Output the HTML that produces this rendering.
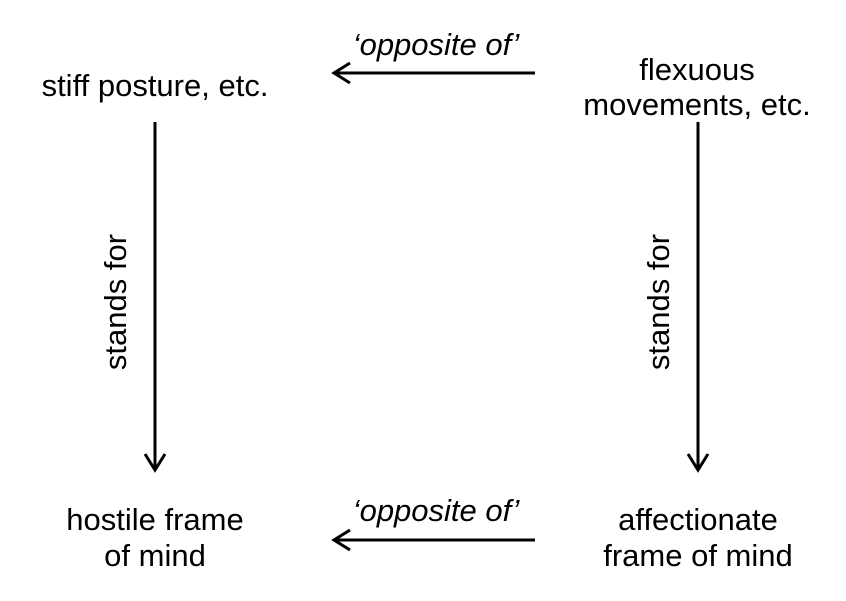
<!DOCTYPE html>
<html><head><style>
html,body{margin:0;padding:0;background:#fff;}
svg text{font-family:"Liberation Sans",sans-serif;font-size:31px;fill:#000;}
</style></head><body>
<svg width="846" height="596" viewBox="0 0 846 596" xmlns="http://www.w3.org/2000/svg">
<g stroke="#000" stroke-width="3" fill="none">
<line x1="535" y1="73" x2="336" y2="73"/>
<polyline points="350,63 334,73 350,83"/>
<line x1="535" y1="540" x2="336" y2="540"/>
<polyline points="350,530 334,540 350,550"/>
<line x1="155" y1="122" x2="155" y2="468"/>
<polyline points="145,454 155,470 165,454"/>
<line x1="698" y1="122" x2="698" y2="468"/>
<polyline points="688,454 698,470 708,454"/>
</g>
<text x="155" y="96" text-anchor="middle">stiff posture, etc.</text>
<text x="697" y="80" text-anchor="middle">flexuous</text>
<text x="697" y="115" text-anchor="middle">movements, etc.</text>
<text x="436" y="55" text-anchor="middle" font-style="italic">‘opposite of’</text>
<text x="436" y="521" text-anchor="middle" font-style="italic">‘opposite of’</text>
<text x="155" y="530" text-anchor="middle">hostile frame</text>
<text x="155" y="566" text-anchor="middle">of mind</text>
<text x="698" y="530" text-anchor="middle">affectionate</text>
<text x="698" y="566" text-anchor="middle">frame of mind</text>
<text transform="translate(126,302) rotate(-90)" text-anchor="middle">stands for</text>
<text transform="translate(669,302) rotate(-90)" text-anchor="middle">stands for</text>
</svg>
</body></html>
